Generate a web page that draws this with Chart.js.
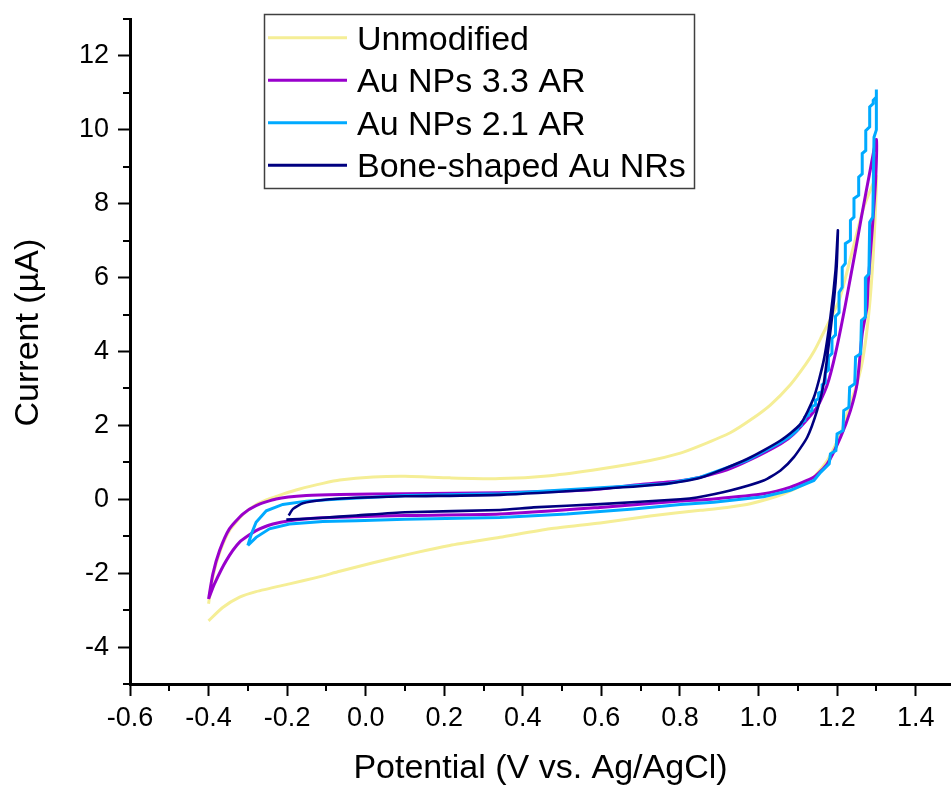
<!DOCTYPE html>
<html>
<head>
<meta charset="utf-8">
<script src="https://cdn.jsdelivr.net/npm/chart.js@4.4.1/dist/chart.umd.min.js"></script>
<style>
    html, body { margin: 0; padding: 0; background: #fff; }
    #cvChart { display: block; }
</style>
</head>
<body>
<canvas id="cvChart" width="951" height="785"></canvas>
<script>
// series names and colours (legend order)
const seriesNames = ["Unmodified", "Au NPs 3.3 AR", "Au NPs 2.1 AR", "Bone-shaped Au NRs"];
const seriesColors = ["rgb(245,238,150)", "rgb(153,0,204)", "rgb(0,170,255)", "rgb(0,0,128)"];

// axis ticks
const xMajor = [-0.6, -0.4, -0.2, 0.0, 0.2, 0.4, 0.6, 0.8, 1.0, 1.2, 1.4];
const xMinor = [-0.5, -0.3, -0.1, 0.1, 0.3, 0.5, 0.7, 0.9, 1.1, 1.3];
const yMajor = [-4, -2, 0, 2, 4, 6, 8, 10, 12];
const yMinor = [-5, -3, -1, 1, 3, 5, 7, 9, 11, 13];

// Unmodified (V vs Ag/AgCl, current in uA)
const unmodV = [-0.400, -0.390, -0.372, -0.347, -0.313, -0.279, -0.253, -0.211, -0.168, -0.109,
    -0.066, 0.019, 0.100, 0.214, 0.342, 0.469, 0.597, 0.724, 0.801, 0.852,
    0.928, 0.980, 1.030, 1.081, 1.120, 1.141, 1.158, 1.205, 1.238, 1.268, 1.292,
    1.300, 1.298, 1.292, 1.284, 1.274, 1.262, 1.247, 1.234, 1.209, 1.175,
    1.132, 1.064, 0.979, 0.920, 0.852, 0.724, 0.597, 0.469, 0.342, 0.214, 0.125,
    0.019, -0.066, -0.126, -0.194, -0.279, -0.321, -0.364, -0.400];
const unmodI = [-2.83, -2.15, -1.45, -0.85, -0.42, -0.15, -0.02, 0.14, 0.28, 0.43,
    0.52, 0.60, 0.62, 0.58, 0.56, 0.64, 0.82, 1.05, 1.25, 1.45,
    1.80, 2.15, 2.55, 3.10, 3.65, 4.00, 4.35, 5.38, 6.69, 7.91, 8.55,
    8.75, 7.90, 6.60, 5.40, 4.40, 3.60, 3.00, 2.60, 1.77, 1.05,
    0.51, 0.15, -0.12, -0.22, -0.30, -0.45, -0.64, -0.80, -1.03, -1.25, -1.45,
    -1.72, -1.95, -2.12, -2.29, -2.50, -2.65, -2.93, -3.29];

// Au NPs 3.3 AR
const au33V = [-0.400, -0.389, -0.372, -0.347, -0.313, -0.279, -0.228, -0.151, -0.066, 0.100,
    0.342, 0.563, 0.700, 0.801, 0.852, 0.920, 0.971, 1.056, 1.090, 1.149,
    1.175, 1.196, 1.220, 1.247, 1.262, 1.285, 1.300, 1.298, 1.290, 1.279,
    1.276, 1.264, 1.251, 1.234, 1.209, 1.175, 1.141, 1.081, 1.013, 0.886,
    0.801, 0.597, 0.342, 0.100, -0.024, -0.109, -0.194, -0.236, -0.279, -0.321,
    -0.355, -0.385, -0.400];
const au33I = [-2.70, -2.02, -1.39, -0.80, -0.40, -0.17, 0.01, 0.10, 0.13, 0.15,
    0.18, 0.25, 0.40, 0.50, 0.60, 0.80, 1.03, 1.50, 1.77, 2.49,
    3.10, 3.95, 5.20, 6.75, 7.64, 8.95, 9.74, 8.61, 7.37, 5.83,
    5.20, 4.48, 3.13, 2.40, 1.68, 0.96, 0.60, 0.33, 0.15, 0.01,
    -0.05, -0.22, -0.40, -0.44, -0.47, -0.50, -0.58, -0.67, -0.85, -1.16,
    -1.66, -2.29, -2.70];

// Au NPs 2.1 AR (stepped near the switching potential)
const au21V = [-0.300, -0.291, -0.279, -0.253, -0.211, -0.151, -0.066, 0.100, 0.342, 0.597,
    0.767, 0.852, 0.971, 1.056, 1.080,
    1.100, 1.100, 1.109, 1.109, 1.118, 1.118, 1.127, 1.127, 1.136, 1.136,
    1.145, 1.145, 1.153, 1.153, 1.162, 1.162, 1.170, 1.170, 1.178, 1.178,
    1.187, 1.187, 1.196, 1.196, 1.205, 1.205, 1.213, 1.213, 1.221, 1.221,
    1.234, 1.234, 1.243, 1.243, 1.255, 1.255, 1.264, 1.264, 1.273, 1.273,
    1.283, 1.283, 1.292, 1.292, 1.300, 1.300,
    1.300, 1.294, 1.291, 1.283, 1.281, 1.273, 1.272, 1.262, 1.260, 1.247,
    1.245, 1.232, 1.230, 1.217, 1.215, 1.200, 1.197, 1.183, 1.180, 1.158,
    1.141, 1.081, 1.013, 0.886, 0.801, 0.682, 0.512, 0.342, 0.100, -0.024,
    -0.109, -0.194, -0.245, -0.279, -0.300];
const au21I = [-1.25, -0.94, -0.62, -0.31, -0.14, -0.05, 0.01, 0.10, 0.15, 0.31,
    0.42, 0.60, 1.05, 1.54, 1.70,
    1.88, 1.95, 2.00, 2.08, 2.13, 2.22, 2.27, 2.36, 2.40, 2.52,
    2.55, 2.68, 2.72, 2.88, 2.92, 3.10, 3.15, 3.42, 3.50, 3.85,
    3.95, 4.35, 4.45, 4.95, 5.05, 5.60, 5.74, 6.28, 6.38, 6.92,
    7.01, 7.55, 7.64, 8.14, 8.23, 8.72, 8.81, 9.36, 9.44, 9.98,
    10.08, 10.62, 10.71, 10.80, 10.89, 11.09,
    10.00, 9.80, 7.64, 7.50, 6.10, 6.01, 4.93, 4.84, 3.94, 3.85,
    3.13, 3.03, 2.49, 2.40, 1.86, 1.77, 1.32, 1.23, 0.96, 0.73,
    0.51, 0.24, 0.07, -0.08, -0.14, -0.26, -0.40, -0.49, -0.54, -0.58,
    -0.60, -0.67, -0.80, -1.03, -1.25];

// Bone-shaped Au NRs
const boneV = [-0.196, -0.185, -0.160, -0.109, -0.024, 0.100, 0.342, 0.597, 0.767, 0.852,
    0.971, 1.056, 1.107, 1.141, 1.166, 1.183, 1.196, 1.202, 1.199, 1.192,
    1.179, 1.166, 1.149, 1.124, 1.090, 1.056, 1.013, 0.928, 0.843, 0.801,
    0.597, 0.427, 0.342, 0.100, -0.024, -0.109, -0.202];
const boneI = [-0.44, -0.26, -0.11, -0.02, 0.04, 0.08, 0.12, 0.28, 0.42, 0.58,
    1.09, 1.59, 2.04, 2.76, 3.76, 4.93, 6.19, 7.28, 6.30, 5.38,
    4.21, 3.13, 2.40, 1.68, 1.14, 0.78, 0.51, 0.24, 0.05, 0.00,
    -0.13, -0.22, -0.29, -0.35, -0.44, -0.50, -0.55];

const FONT = "'Liberation Sans', Arial, sans-serif";

function pairUp(vs, is) {
    var pts = [];
    for (let i = 0; i < vs.length; i++) {
        pts.push({ x: vs[i], y: is[i] });
    }
    return pts;
}

// minor tick marks on both axes
const minorTicks = {
    id: "minorTicks",
    afterDraw(chart) {
        const ctx = chart.ctx;
        const xs = chart.scales.x, ys = chart.scales.y;
        const area = chart.chartArea;
        ctx.save();
        ctx.strokeStyle = "#000";
        ctx.lineWidth = 2;
        ctx.beginPath();
        xMinor.forEach(v => {
            const px = Math.round(xs.getPixelForValue(v));
            ctx.moveTo(px, area.bottom);
            ctx.lineTo(px, area.bottom + 7);
        });
        yMinor.forEach(v => {
            const py = Math.round(ys.getPixelForValue(v));
            ctx.moveTo(area.left - 7, py);
            ctx.lineTo(area.left, py);
        });
        ctx.stroke();
        ctx.restore();
    }
};

// boxed legend inside the plot, like the original
const boxLegend = {
    id: "boxLegend",
    afterDraw(chart) {
        const ctx = chart.ctx;
        ctx.save();
        ctx.fillStyle = "#fff";
        ctx.fillRect(264.5, 14.5, 430, 174);
        ctx.strokeStyle = "#404040";
        ctx.lineWidth = 1.5;
        ctx.strokeRect(264.5, 14.5, 430, 174);
        ctx.font = "34px " + FONT;
        ctx.textBaseline = "alphabetic";
        ctx.textAlign = "left";
        chart.data.datasets.forEach((ds, i) => {
            const rowY = 37.7 + i * 42.5;
            ctx.strokeStyle = ds.borderColor;
            ctx.lineWidth = 3;
            ctx.beginPath();
            ctx.moveTo(268, rowY);
            ctx.lineTo(347, rowY);
            ctx.stroke();
            ctx.fillStyle = "#000";
            ctx.fillText(ds.label, 357, rowY + 12);
        });
        ctx.restore();
    }
};

var seriesData = [pairUp(unmodV, unmodI), pairUp(au33V, au33I), pairUp(au21V, au21I), pairUp(boneV, boneI)];
var datasets = [];
for (let i = 0; i < seriesNames.length; i++) {
    datasets.push({
        label: seriesNames[i],
        data: seriesData[i],
        borderColor: seriesColors[i],
        backgroundColor: seriesColors[i],
        borderWidth: i === 3 ? 2.6 : 3,
        pointRadius: 0,
        showLine: true,
        fill: false,
        tension: i === 2 ? 0 : 0.2,
        order: seriesNames.length - i
    });
}

var config = {
    type: "scatter",
    data: { datasets: datasets },
    options: {
        responsive: false,
        animation: false,
        layout: { padding: { top: 19, right: 0, bottom: 0, left: 0 } },
        plugins: {
            legend: { display: false },
            tooltip: { enabled: false }
        },
        scales: {
            x: {
                type: "linear",
                min: -0.6,
                max: 1.49,
                afterBuildTicks: scale => { scale.ticks = xMajor.map(v => ({ value: v })); },
                afterFit: scale => {
                    scale.height = 101;
                    scale.paddingLeft = 0;
                    scale.paddingRight = 0;
                },
                ticks: {
                    color: "#000",
                    padding: 6,
                    font: { family: FONT, size: 27 },
                    callback: value => Number(value).toFixed(1)
                },
                grid: { display: true, drawOnChartArea: false, tickLength: 12, tickWidth: 2, tickColor: "#000" },
                border: { display: true, width: 3, color: "#000" },
                title: {
                    display: true,
                    text: "Potential (V vs. Ag/AgCl)",
                    color: "#000",
                    font: { family: FONT, size: 34 },
                    padding: { top: 0, bottom: -4 }
                }
            },
            y: {
                type: "linear",
                min: -5,
                max: 13,
                afterBuildTicks: scale => { scale.ticks = yMajor.map(v => ({ value: v })); },
                afterFit: scale => {
                    scale.width = 130;
                    scale.paddingTop = 0;
                    scale.paddingBottom = 0;
                },
                ticks: {
                    color: "#000",
                    padding: 9,
                    font: { family: FONT, size: 27 },
                    callback: value => String(value)
                },
                grid: { display: true, drawOnChartArea: false, tickLength: 12, tickWidth: 2, tickColor: "#000" },
                border: { display: true, width: 3, color: "#000" },
                title: {
                    display: true,
                    text: "    Current (\u00b5A)",
                    color: "#000",
                    font: { family: FONT, size: 34 },
                    padding: { top: 8, bottom: 0 }
                }
            }
        }
    },
    plugins: [minorTicks, boxLegend]
};

var cvChart = new Chart(document.getElementById("cvChart"), config);
</script>
</body>
</html>
